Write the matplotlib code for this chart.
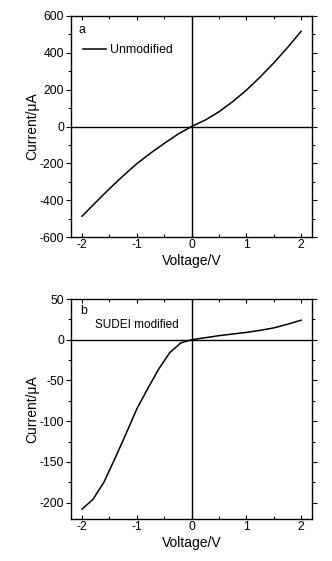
import matplotlib
matplotlib.use("Agg")
import matplotlib.pyplot as plt
from matplotlib.ticker import MultipleLocator
from matplotlib.lines import Line2D

plt.rcParams['font.family'] = ['Liberation Sans', 'DejaVu Sans']
plt.rcParams['axes.unicode_minus'] = False

# data
voltage = [-2, -1.75, -1.5, -1.25, -1, -0.75, -0.5, -0.25, 0,
           0.25, 0.5, 0.75, 1, 1.25, 1.5, 1.75, 2]
current_unmod = [-487, -412, -338, -268, -202, -145, -92, -42, 0,
                 35, 80, 135, 197, 268, 345, 428, 517]
voltage_b = [-2, -1.8, -1.6, -1.4, -1.2, -1, -0.8, -0.6, -0.4, -0.2, 0,
             0.25, 0.5, 0.75, 1, 1.25, 1.5, 1.75, 2]
current_sudei = [-208, -196, -175, -146, -116, -85, -60, -36, -16, -4, 0,
                 2.5, 5, 7, 9, 11.5, 14.5, 19, 24]

fig = plt.figure(figsize=(3.32, 5.61), dpi=100)
ax1 = fig.add_axes([0.214, 0.5775, 0.726, 0.394])
ax2 = fig.add_axes([0.214, 0.075, 0.726, 0.392])


def style(ax, ymajor, yminor):
    ax.set_xlim(-2.2, 2.2)
    ax.xaxis.set_major_locator(MultipleLocator(1))
    ax.xaxis.set_minor_locator(MultipleLocator(0.5))
    ax.yaxis.set_major_locator(MultipleLocator(ymajor))
    ax.yaxis.set_minor_locator(MultipleLocator(yminor))
    ax.axhline(0, color='black', lw=1.0)
    ax.axvline(0, color='black', lw=1.0)
    ax.tick_params(which='both', direction='out', labelsize=8.8, width=0.8,
                   right=True)
    ax.tick_params(which='major', length=3.5, pad=1.5)
    ax.tick_params(which='minor', length=2)
    ax.tick_params(axis='x', which='both', top=True, direction='in')
    ax.tick_params(axis='x', which='both', bottom=True)
    ax.tick_params(axis='x', which='major', length=3)
    for s in ax.spines.values():
        s.set_linewidth(1.0)
    ax.set_xlabel("Voltage/V", fontsize=10, labelpad=2)
    ax.set_ylabel("Current/μA", fontsize=10, labelpad=0)


ax1.plot(voltage, current_unmod, color='black', lw=1.1)
ax1.set_ylim(-600, 600)
style(ax1, 200, 100)
ax1.text(0.044, 0.937, "a", transform=ax1.transAxes, fontsize=8.8, va='center', ha='center')
ax1.legend([Line2D([], [], color='black', lw=1.1)], ["Unmodified"],
           loc='center left', bbox_to_anchor=(0.005, 0.846), frameon=False,
           fontsize=8.8, handlelength=1.9, handletextpad=0.3)

ax2.plot(voltage_b, current_sudei, color='black', lw=1.1)
ax2.set_ylim(-220, 50)
style(ax2, 50, 25)
ax2.text(0.054, 0.945, "b", transform=ax2.transAxes, fontsize=8.8, va='center', ha='center')
ax2.text(0.10, 0.88, "SUDEI modified", transform=ax2.transAxes, fontsize=8.5, va='center', ha='left')

fig.savefig("out.png", dpi=100)
